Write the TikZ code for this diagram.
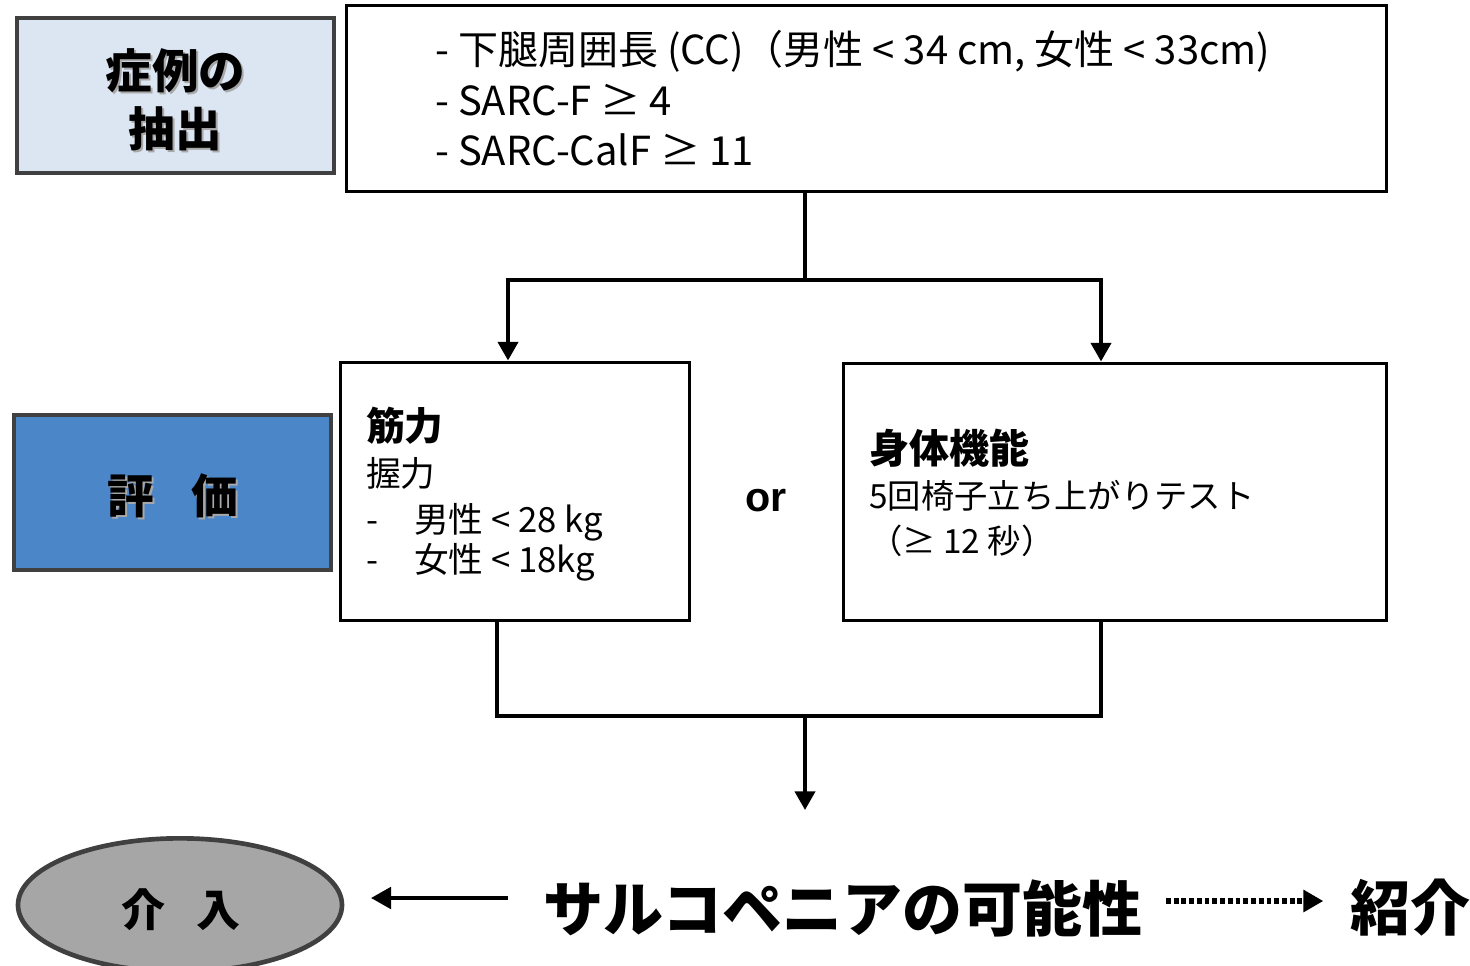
\documentclass[tikz,border=0pt]{standalone}
\usepackage{fontspec}
\setmainfont{Noto Sans CJK JP}
\newfontfamily\arialf{Liberation Sans}
\usetikzlibrary{arrows.meta,shapes.geometric}
\definecolor{lblue}{HTML}{DCE6F2}
\definecolor{mblue}{HTML}{4A86C8}
\definecolor{dgray}{HTML}{404040}
\definecolor{egray}{HTML}{A6A6A6}
\definecolor{shgray}{HTML}{A8A8A8}
\newcommand{\fs}[1]{\fontsize{#1}{#1}\selectfont}
\begin{document}
\begin{tikzpicture}[x=0.75pt,y=-0.75pt,
  box/.style={draw=black, line width=2.25pt, fill=white, inner sep=0pt},
  lblbox/.style={draw=dgray, line width=3pt, inner sep=0pt, minimum width=237.75pt, minimum height=116.25pt},
  conn/.style={line width=3pt},
  arr/.style={conn, -{Triangle[width=15pt,length=14pt]}},
  txt/.style={inner sep=0pt, anchor=base west},
  lbltxt/.style={inner sep=0pt, font=\fs{35pt}\bfseries},
  shtxt/.style={lbltxt, text=shgray},
]
\useasboundingbox (0,0) rectangle (1470,965);
\clip (0,0) rectangle (1470,965);

% label boxes
\node[lblbox, fill=lblue] (ext) at (175.5,95.5) {};
\node[shtxt] (ext1sh) at (177.5,73) {症例の};
\node[lbltxt] (ext1) at (175.5,71) {症例の};
\node[shtxt] (ext2sh) at (177.5,131) {抽出};
\node[lbltxt] (ext2) at (175.5,129) {抽出};

\node[lblbox, fill=mblue] (eval) at (172.5,492.5) {};
\node[shtxt] (evalsh) at (174.5,497.5) {評\hspace{0.8em}価};
\node[lbltxt] (evalt) at (172.5,495.5) {評\hspace{0.8em}価};

% top box
\node[box, minimum width=780pt, minimum height=139.5pt] (top) at (866,98) {};
\node[txt, font=\fs{30pt}] (l1) at (435,64) {- 下腿周囲長 (CC)（男性 < 34 cm, 女性 < 33cm)};
\node[txt, font=\fs{30pt}] (l2) at (435,115) {- SARC-F ≥ 4};
\node[txt, font=\fs{30pt}] (l3) at (435,165) {- SARC-CalF ≥ 11};

% middle boxes
\node[box, minimum width=261.75pt, minimum height=193.5pt] (mus) at (514.5,491) {};
\node[txt, font=\fs{29pt}\bfseries] (m1) at (366,440) {筋力};
\node[txt, font=\fs{26pt}] (m2) at (366,486) {握力};
\node[txt, font=\fs{26pt}] (m3a) at (366,532) {-};
\node[txt, font=\fs{26pt}] (m3) at (414,532) {男性 < 28 kg};
\node[txt, font=\fs{26pt}] (m4a) at (366,572) {-};
\node[txt, font=\fs{26pt}] (m4) at (414,572) {女性 < 18kg};

\node[inner sep=0pt, font=\arialf\fs{31pt}\bfseries] (or) at (766,501) {or};

\node[box, minimum width=407.25pt, minimum height=192.75pt] (phy) at (1114.5,491.5) {};
\node[txt, font=\fs{30pt}\bfseries] (p1) at (869,463) {身体機能};
\node[txt, font=\fs{25pt}] (p2) at (869,508) {5回椅子立ち上がりテスト};
\node[txt, font=\fs{25pt}] (p3) at (869,553) {（≥ 12 秒）};

% connectors top -> middle
\coordinate (split) at (805,280);
\coordinate (jn) at (805,716);
\draw[conn] (split |- top.south) -- (split);
\draw[arr] (split) -| (mus.north -| 508,0);
\draw[arr] (split) -| (phy.north -| 1101,0);
\draw[conn] (mus.south -| 497,0) |- (jn);
\draw[conn] (phy.south -| 1101,0) |- (jn);
\coordinate (res) at (805,810);
\draw[arr] (jn) -- (res);

% bottom row
\node[ellipse, draw=dgray, line width=3.5pt, fill=egray, minimum width=243pt, minimum height=100pt, inner sep=0pt] (int) at (180,905) {};
\node[inner sep=0pt, font=\fs{33pt}\bfseries, text=shgray] (intsh) at (183,912) {介\hspace{0.7em}入};
\node[inner sep=0pt, font=\fs{33pt}\bfseries] (intt) at (181,910) {介\hspace{0.7em}入};

\node[inner sep=0pt, anchor=west, font=\fs{45pt}\bfseries] (sarc) at (543,908) {サルコペニアの可能性};
\node[inner sep=0pt, anchor=west, font=\fs{45pt}\bfseries] (ref) at (1350,908) {紹介};
\coordinate (la) at (508,898);
\draw[line width=3pt, shorten >=20pt, -{Triangle[width=16pt,length=15pt]}] (la) -- (int.east |- la);
\coordinate (da) at (1166,901);
\draw[line width=4.5pt, dash pattern=on 3.6pt off 2.2pt, shorten >=20pt, -{Triangle[width=16pt,length=15pt]}] (da) -- (ref.west |- da);
\end{tikzpicture}
\end{document}
